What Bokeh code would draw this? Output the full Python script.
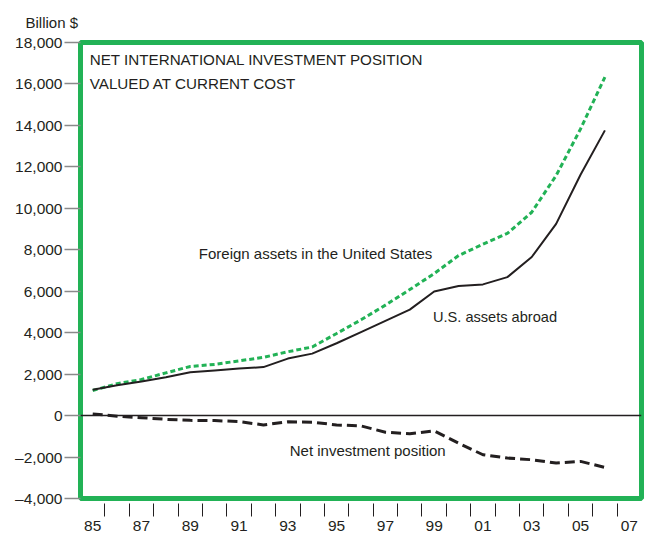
from bokeh.plotting import figure
from bokeh.models import (LinearAxis, FixedTicker, Span, Label, Range1d, Title,
                          CustomJSTickFormatter)
from bokeh.embed import file_html
from bokeh.resources import INLINE

# ---- data (billions of dollars, current cost) ----
years = list(range(1985, 2007))
us_assets_abroad = [1250, 1460, 1650, 1850, 2090, 2180, 2270, 2340, 2750, 2990, 3490,
                    4030, 4570, 5110, 5990, 6250, 6330, 6680, 7650, 9250, 11620, 13760]
foreign_assets_in_us = [1210, 1540, 1740, 2060, 2370, 2470, 2640, 2810, 3080, 3310, 3960,
                        4620, 5330, 6080, 6850, 7720, 8270, 8790, 9810, 11580, 13830, 16330]
net_position = [80, -30, -100, -180, -230, -240, -290, -450, -300, -320, -450,
                -500, -800, -880, -740, -1330, -1890, -2050, -2130, -2290, -2210, -2500]

y_ticks = [-4000, -2000, 0, 2000, 4000, 6000, 8000, 10000, 12000, 14000, 16000, 18000]
y_tick_labels = ["\u20134,000", "\u20132,000", "0", "2,000", "4,000", "6,000", "8,000",
                 "10,000", "12,000", "14,000", "16,000", "18,000"]
year_boundaries = list(range(1986, 2008))
x_label_years = [1985, 1987, 1989, 1991, 1993, 1995, 1997, 1999, 2001, 2003, 2005, 2007]
x_tick_labels = ["85", "87", "89", "91", "93", "95", "97", "99", "01", "03", "05", "07"]

FONT = "Liberation Sans"
GREEN = "#22b256"
INK = "#231f20"

# points sit at the middle of each year
xs = [y + 0.5 for y in years]

p = figure(width=645, height=538, output_backend="svg", toolbar_location=None,
           x_axis_type=None, y_axis_type=None,
           x_range=Range1d(1985, 2008), y_range=Range1d(-4000, 18000),
           min_border_left=80, min_border_right=4, min_border_top=41, min_border_bottom=40)
p.xgrid.visible = False
p.ygrid.visible = False
p.outline_line_color = GREEN
p.outline_line_width = 5
p.background_fill_color = "white"
p.border_fill_color = "white"

# unit label above the y axis
unit_title = Title(text="Billion $", align="left", offset=-55, standoff=23,
                   text_font=FONT, text_font_size="15px", text_font_style="normal",
                   text_color=INK)
p.add_layout(unit_title, "above")

# y axis
yax = LinearAxis(ticker=FixedTicker(ticks=y_ticks),
                 major_label_overrides={t: l for t, l in zip(y_ticks, y_tick_labels)})
yax.axis_line_color = None
yax.major_tick_in = 0
yax.major_tick_out = 16
yax.major_tick_line_color = "#8a8a8a"
yax.major_tick_line_width = 1.5
yax.minor_tick_line_color = None
yax.major_label_standoff = 2
yax.major_label_text_font = FONT
yax.major_label_text_font_size = "15.5px"
yax.major_label_text_color = INK
p.add_layout(yax, "left")

# x axis: year-boundary ticks
xax_ticks = LinearAxis(ticker=FixedTicker(ticks=year_boundaries),
                       formatter=CustomJSTickFormatter(code="return ''"))
xax_ticks.axis_line_color = None
xax_ticks.major_tick_in = -5
xax_ticks.major_tick_out = 18
xax_ticks.major_tick_line_color = INK
xax_ticks.major_tick_line_width = 1
xax_ticks.minor_tick_line_color = None
xax_ticks.major_label_standoff = 0
xax_ticks.major_label_text_font_size = "1px"
p.add_layout(xax_ticks, "below")

# x axis: labels centred on each year
label_pos = [y + 0.5 for y in x_label_years]
xax_labels = LinearAxis(ticker=FixedTicker(ticks=label_pos),
                        major_label_overrides={t: l for t, l in zip(label_pos, x_tick_labels)})
xax_labels.axis_line_color = None
xax_labels.major_tick_line_color = None
xax_labels.minor_tick_line_color = None
xax_labels.major_tick_out = 0
xax_labels.major_label_standoff = 4
xax_labels.major_label_text_font = FONT
xax_labels.major_label_text_font_size = "15.5px"
xax_labels.major_label_text_color = INK
p.add_layout(xax_labels, "below")

# zero line
p.add_layout(Span(location=0, dimension="width", line_color=INK, line_width=1.5))

# series
p.line(xs, foreign_assets_in_us, line_color=GREEN, line_width=3, line_dash="5 3")
p.line(xs, us_assets_abroad, line_color=INK, line_width=2)
p.line(xs, net_position, line_color=INK, line_width=3, line_dash="10 5")

def add_text(x, y, txt, size="15px"):
    p.add_layout(Label(x=x, y=y, text=txt, text_font=FONT, text_font_size=size,
                       text_color=INK, text_align="left", text_baseline="middle"))

add_text(1985.38, 17190, "NET INTERNATIONAL INVESTMENT POSITION", "15.2px")
add_text(1985.38, 16030, "VALUED AT CURRENT COST", "15.2px")
add_text(1989.85, 7800, "Foreign assets in the United States")
add_text(1999.45, 4770, "U.S. assets abroad", "14.6px")
add_text(1993.58, -1690, "Net investment position")

open("out.html", "w").write(file_html(p, INLINE))
